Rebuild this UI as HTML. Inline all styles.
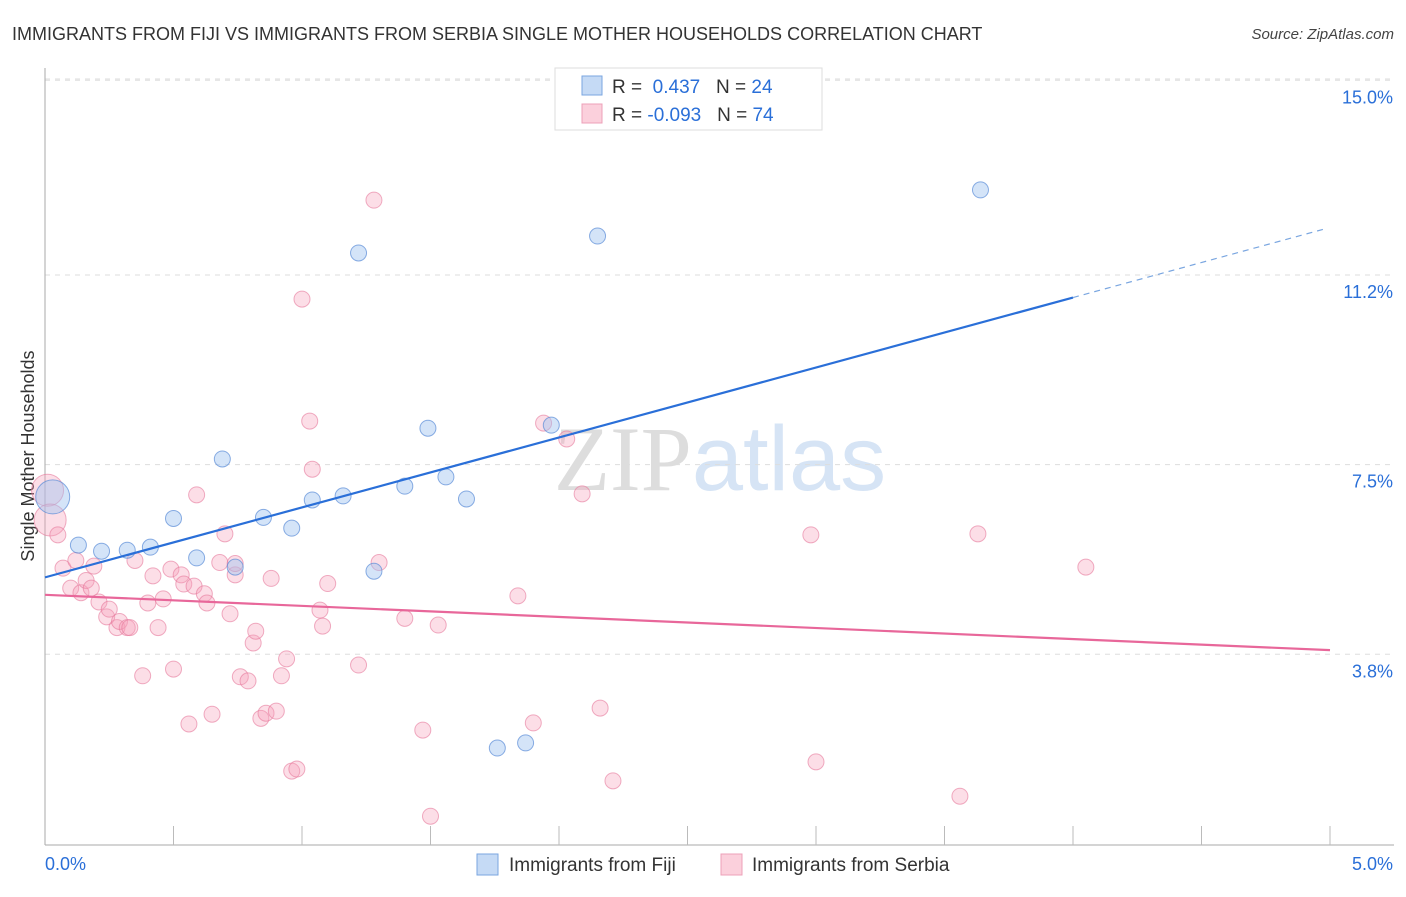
<!DOCTYPE html>
<html><head><meta charset="utf-8"><style>
body{margin:0;background:#fff;font-family:"Liberation Sans",sans-serif;}
svg text{font-family:"Liberation Sans",sans-serif;}
</style></head><body>
<svg id="chart" width="1406" height="892" xmlns="http://www.w3.org/2000/svg">
<text x="12" y="40" font-size="18" fill="#333">IMMIGRANTS FROM FIJI VS IMMIGRANTS FROM SERBIA SINGLE MOTHER HOUSEHOLDS CORRELATION CHART</text>
<text x="1394" y="39" font-size="15" fill="#444" font-style="italic" text-anchor="end">Source: ZipAtlas.com</text>
<text x="720" y="490" font-size="92" text-anchor="middle"><tspan fill="#ddd" font-family="Liberation Serif">ZIP</tspan><tspan fill="#d6e4f5">atlas</tspan></text>
<text transform="translate(34,456) rotate(-90)" font-size="18" fill="#333" text-anchor="middle">Single Mother Households</text>
<g id="grid"></g><g id="axes"></g><g id="marks"></g>
<g>
<rect x="555" y="68" width="267" height="62" fill="#fff" stroke="#ddd"/>
<rect x="582" y="76" width="20" height="19" fill="#c5daf5" stroke="#7aa6e0"/>
<rect x="582" y="104" width="20" height="19" fill="#fbd0dc" stroke="#eda0b8"/>
<text x="612" y="93" font-size="19" fill="#333">R = <tspan fill="#2a6fd8">&#160;0.437</tspan>&#160;&#160;&#160;N = <tspan fill="#2a6fd8">24</tspan></text>
<text x="612" y="121" font-size="19" fill="#333">R = <tspan fill="#2a6fd8">-0.093</tspan>&#160;&#160;&#160;N = <tspan fill="#2a6fd8">74</tspan></text>
</g>
<g>
<rect x="477" y="854" width="21" height="21" fill="#c5daf5" stroke="#7aa6e0"/>
<text x="509" y="871" font-size="19" fill="#333">Immigrants from Fiji</text>
<rect x="721" y="854" width="21" height="21" fill="#fbd0dc" stroke="#eda0b8"/>
<text x="752" y="871" font-size="19" fill="#333">Immigrants from Serbia</text>
</g>
</svg>
<script>
const yTicks=[3.8,7.5,11.2,15.0];
const yTickLabels=["3.8%","7.5%","11.2%","15.0%"];
const xEndLabels=["0.0%","5.0%"];
const fijiX=[0.03,0.13,0.22,0.32,0.41,0.50,0.59,0.69,0.74,0.85,0.96,1.04,1.16,1.22,1.28,1.40,1.49,1.56,1.64,1.76,1.87,1.97,2.15,3.64];
const fijiY=[6.87,5.93,5.81,5.83,5.89,6.45,5.68,7.61,5.50,6.47,6.26,6.81,6.89,11.63,5.42,7.08,8.21,7.26,6.83,1.97,2.07,8.27,11.96,12.86];
const serbiaX=[0.01,0.02,0.05,0.07,0.10,0.12,0.14,0.16,0.18,0.19,0.21,0.24,0.25,0.28,0.29,0.32,0.33,0.35,0.38,0.40,0.42,0.44,0.46,0.49,0.50,0.53,0.54,0.56,0.58,0.59,0.62,0.63,0.65,0.68,0.70,0.72,0.74,0.74,0.76,0.79,0.81,0.82,0.84,0.86,0.88,0.90,0.92,0.94,0.96,0.98,1.00,1.03,1.04,1.07,1.08,1.10,1.22,1.28,1.30,1.40,1.47,1.50,1.53,1.84,1.90,1.94,2.03,2.09,2.16,2.21,2.98,3.00,3.56,3.63,4.05];
const serbiaY=[7.00,6.42,6.13,5.48,5.09,5.63,5.00,5.24,5.09,5.52,4.82,4.53,4.68,4.32,4.44,4.32,4.32,5.63,3.38,4.80,5.33,4.32,4.88,5.46,3.51,5.35,5.17,2.44,5.13,6.91,4.98,4.80,2.63,5.59,6.15,4.59,5.35,5.57,3.36,3.28,4.02,4.25,2.55,2.65,5.28,2.69,3.38,3.71,1.52,1.56,10.73,8.35,7.41,4.66,4.35,5.18,3.59,12.66,5.59,4.50,2.32,0.64,4.37,4.94,2.46,8.31,8.00,6.93,2.75,1.33,6.13,1.70,1.03,6.15,5.50];
const fijiTrend=[0,5.30,4.0,10.76];
const fijiTrendExt=[4.0,10.76,4.98,12.1];
const serbiaTrend=[0,4.96,5.0,3.88];
const X0=45,X1=1330,Y0=849,PPY=51.25;
const sx=v=>X0+(X1-X0)*v/5, sy=v=>Y0-v*PPY;
const NS="http://www.w3.org/2000/svg";
function mk(tag,attrs,parent){const e=document.createElementNS(NS,tag);for(const k in attrs)e.setAttribute(k,attrs[k]);document.getElementById(parent).appendChild(e);return e;}
yTicks.forEach((t,i)=>{
 const g=mk('line',{x1:45,x2:1394,y1:sy(t),y2:sy(t),stroke:'#ddd','stroke-dasharray':'5,5'},'grid');
 
 
 const tx=mk('text',{x:1393,y:sy(t)+23,'font-size':18,fill:'#2a6fd8','text-anchor':'end'},'axes');
 tx.textContent=yTickLabels[i];
 
 
});
const topG=mk('line',{x1:45,x2:1394,y1:79,y2:79,stroke:'#ddd','stroke-dasharray':'5,5'},'grid');


const ya=mk('line',{x1:45,x2:45,y1:68,y2:845,stroke:'#aaa'},'axes');


const xa=mk('line',{x1:45,x2:1394,y1:845,y2:845,stroke:'#aaa'},'axes');


for(let i=1;i<=10;i++){const t=mk('line',{x1:sx(i*0.5),x2:sx(i*0.5),y1:826,y2:845,stroke:'#bbb'},'axes');
 
 }
[[45,'start'],[1393,'end']].forEach((p,i)=>{const t=mk('text',{x:p[0],y:870,'font-size':18,fill:'#2a6fd8','text-anchor':p[1]},'axes');t.textContent=xEndLabels[i];
 
 });
serbiaX.forEach((x,i)=>{const big=i<2;const c=mk('circle',{cx:sx(x),cy:sy(serbiaY[i]),r:big?16:8,fill:'rgba(245,160,185,0.35)',stroke:'rgba(230,120,155,0.6)'},'marks');
 
 });
fijiX.forEach((x,i)=>{const c=mk('circle',{cx:sx(x),cy:sy(fijiY[i]),r:i==0?17:8,fill:'rgba(160,195,240,0.45)',stroke:'rgba(90,140,215,0.7)'},'marks');
 
 });
const l1=mk('line',{x1:sx(fijiTrend[0]),y1:sy(fijiTrend[1]),x2:sx(fijiTrend[2]),y2:sy(fijiTrend[3]),stroke:'#2a6fd8','stroke-width':2.2},'marks');


const l2=mk('line',{x1:sx(fijiTrendExt[0]),y1:sy(fijiTrendExt[1]),x2:sx(fijiTrendExt[2]),y2:sy(fijiTrendExt[3]),stroke:'#7aa6e0','stroke-width':1.2,'stroke-dasharray':'6,5'},'marks');


const l3=mk('line',{x1:sx(serbiaTrend[0]),y1:sy(serbiaTrend[1]),x2:sx(serbiaTrend[2]),y2:sy(serbiaTrend[3]),stroke:'#e8679a','stroke-width':2.2},'marks');


</script>
</body></html>
